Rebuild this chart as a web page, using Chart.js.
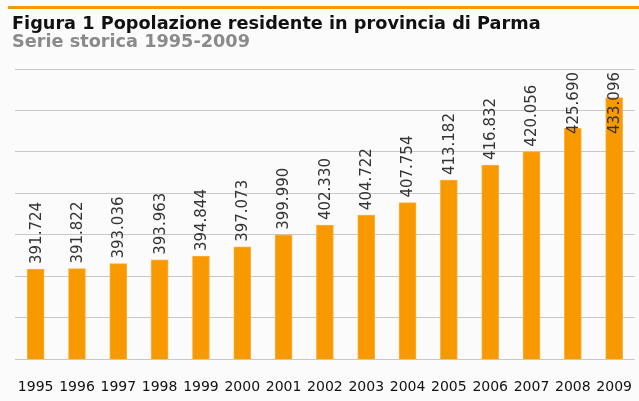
<!DOCTYPE html>
<html>
<head>
<meta charset="utf-8">
<script src="https://cdn.jsdelivr.net/npm/chart.js@4"></script>
<style>
  html, body { margin: 0; padding: 0; background: #fbfbfb; overflow: hidden; }
  #wrap { position: relative; width: 639px; height: 401px; overflow: hidden; }
  #line { position: absolute; left: 8px; top: 6px; width: 640px; height: 3px; background: #f99900; }
  #title { position: absolute; left: 12px; top: 13px; font: bold 17.7px "DejaVu Sans"; color: #111; white-space: nowrap; }
  #subtitle { position: absolute; left: 12px; top: 31px; font: bold 17.7px "DejaVu Sans"; color: #8a8a8a; white-space: nowrap; }
  #chart { position: absolute; left: 0; top: 0; }
</style>
</head>
<body>
<div id="wrap">
  <canvas id="chart" width="644" height="401"></canvas>
  <div id="line"></div>
  <div id="title">Figura 1 Popolazione residente in provincia di Parma</div>
  <div id="subtitle">Serie storica 1995-2009</div>
</div>
<script>
const years = ['1995', '1996', '1997', '1998', '1999', '2000', '2001', '2002', '2003', '2004', '2005', '2006', '2007', '2008', '2009']
const popolazione = [391724, 391822, 393036, 393963, 394844, 397073, 399990, 402330, 404722, 407754, 413182, 416832, 420056, 425690, 433096]
const yMin = 370000
const yMax = 440000
const yStep = 10000

function formatIt(n) {
    return n.toString().replace(/\B(?=(\d{3})+(?!\d))/g, '.')
}

// etichette verticali sopra le barre
const valueLabels = {
    id: 'valueLabels',
    afterDatasetsDraw(chart) {
        const ctx = chart.ctx
        const meta = chart.getDatasetMeta(0)
        ctx.save()
        ctx.font = '15px "DejaVu Sans"'
        ctx.fillStyle = '#333'
        ctx.textBaseline = 'middle'
        ctx.textAlign = 'left'
        meta.data.forEach((bar, i) => {
            const text = formatIt(popolazione[i])
            const w = ctx.measureText(text).width
            let start = bar.y - 5
            // se non c'è spazio, l'etichetta scende dentro la barra
            if (start - w < chart.chartArea.top + 3) start = chart.chartArea.top + 3 + w
            ctx.save()
            ctx.translate(bar.x + 1, start)
            ctx.rotate(-Math.PI / 2)
            ctx.fillText(text, 0, 0)
            ctx.restore()
        })
        ctx.restore()
    }
}

const ctx = document.getElementById('chart').getContext('2d')
const myChart = new Chart(ctx, {
    type: 'bar',
    data: {
        labels: years,
        datasets: [{
            data: popolazione,
            backgroundColor: '#f99900',
            borderColor: '#fbb040',
            borderWidth: 1,
            barThickness: 17
        }]
    },
    options: {
        responsive: false,
        animation: false,
        layout: { padding: { top: 69, left: 15, right: 1, bottom: 0 } },
        plugins: {
            legend: { display: false },
            tooltip: { enabled: false }
        },
        scales: {
            x: {
                grid: { display: false },
                border: { display: false },
                ticks: { color: '#111', font: { family: 'DejaVu Sans', size: 14 }, padding: 12, maxRotation: 0 },
                afterFit: (scale) => { scale.height = 42 }
            },
            y: {
                min: yMin,
                max: yMax,
                ticks: { display: false, stepSize: yStep },
                grid: { color: '#c8c8c8', drawTicks: false },
                border: { display: false },
                afterFit: (scale) => { scale.width = 0 }
            }
        }
    },
    plugins: [valueLabels]
})
</script>
</body>
</html>
